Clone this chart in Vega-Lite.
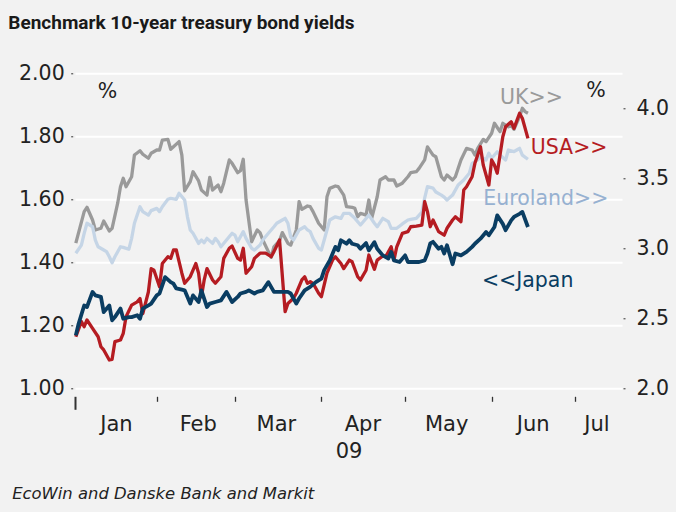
{
"$schema": "https://vega.github.io/schema/vega-lite/v6.json",
"width": 547, "height": 315,
"autosize": {"type": "none"},
"padding": {"left": 75, "top": 73.3, "right": 54, "bottom": 123.7},
"background": "#f2f2f2",
"config": {"view": {"stroke": null}, "font": "DejaVu Sans", "axis": {"labelFont": "DejaVu Sans", "titleFont": "DejaVu Sans"}},
"title": {"text": "Benchmark 10-year treasury bond yields", "anchor": "start", "frame": "group", "dx": -66.7, "offset": 30, "font": "Roboto", "fontSize": 19, "fontWeight": "bold", "color": "#1a1a1a"},
"datasets": {
"yields": [
{"date":"2009/01/03","series":"UK","value":3.037},{"date":"2009/01/06","series":"UK","value":3.262},{"date":"2009/01/07","series":"UK","value":3.293},{"date":"2009/01/09","series":"UK","value":3.202},{"date":"2009/01/10","series":"UK","value":3.131},{"date":"2009/01/12","series":"UK","value":3.143},{"date":"2009/01/13","series":"UK","value":3.195},{"date":"2009/01/15","series":"UK","value":3.124},{"date":"2009/01/16","series":"UK","value":3.143},{"date":"2009/01/18","series":"UK","value":3.322},{"date":"2009/01/19","series":"UK","value":3.44},{"date":"2009/01/20","series":"UK","value":3.5},{"date":"2009/01/21","series":"UK","value":3.44},{"date":"2009/01/23","series":"UK","value":3.511},{"date":"2009/01/24","series":"UK","value":3.666},{"date":"2009/01/26","series":"UK","value":3.697},{"date":"2009/01/27","series":"UK","value":3.672},{"date":"2009/01/29","series":"UK","value":3.643},{"date":"2009/01/30","series":"UK","value":3.679},{"date":"2009/02/01","series":"UK","value":3.702},{"date":"2009/02/02","series":"UK","value":3.702},{"date":"2009/02/03","series":"UK","value":3.773},{"date":"2009/02/05","series":"UK","value":3.778},{"date":"2009/02/06","series":"UK","value":3.707},{"date":"2009/02/07","series":"UK","value":3.725},{"date":"2009/02/09","series":"UK","value":3.762},{"date":"2009/02/10","series":"UK","value":3.666},{"date":"2009/02/11","series":"UK","value":3.411},{"date":"2009/02/13","series":"UK","value":3.476},{"date":"2009/02/14","series":"UK","value":3.547},{"date":"2009/02/16","series":"UK","value":3.481},{"date":"2009/02/17","series":"UK","value":3.416},{"date":"2009/02/19","series":"UK","value":3.38},{"date":"2009/02/20","series":"UK","value":3.507},{"date":"2009/02/21","series":"UK","value":3.416},{"date":"2009/02/23","series":"UK","value":3.452},{"date":"2009/02/24","series":"UK","value":3.404},{"date":"2009/02/25","series":"UK","value":3.465},{"date":"2009/02/27","series":"UK","value":3.631},{"date":"2009/02/28","series":"UK","value":3.607},{"date":"2009/03/02","series":"UK","value":3.54},{"date":"2009/03/03","series":"UK","value":3.554},{"date":"2009/03/04","series":"UK","value":3.636},{"date":"2009/03/05","series":"UK","value":3.345},{"date":"2009/03/07","series":"UK","value":3.047},{"date":"2009/03/09","series":"UK","value":3.131},{"date":"2009/03/10","series":"UK","value":3.112},{"date":"2009/03/11","series":"UK","value":3.059},{"date":"2009/03/13","series":"UK","value":2.976},{"date":"2009/03/14","series":"UK","value":2.935},{"date":"2009/03/15","series":"UK","value":3.011},{"date":"2009/03/17","series":"UK","value":3.054},{"date":"2009/03/18","series":"UK","value":3.112},{"date":"2009/03/20","series":"UK","value":3.036},{"date":"2009/03/21","series":"UK","value":3.023},{"date":"2009/03/23","series":"UK","value":3.131},{"date":"2009/03/24","series":"UK","value":3.333},{"date":"2009/03/25","series":"UK","value":3.278},{"date":"2009/03/27","series":"UK","value":3.302},{"date":"2009/03/28","series":"UK","value":3.297},{"date":"2009/03/29","series":"UK","value":3.262},{"date":"2009/03/31","series":"UK","value":3.179},{"date":"2009/04/02","series":"UK","value":3.131},{"date":"2009/04/03","series":"UK","value":3.368},{"date":"2009/04/04","series":"UK","value":3.428},{"date":"2009/04/06","series":"UK","value":3.445},{"date":"2009/04/07","series":"UK","value":3.44},{"date":"2009/04/09","series":"UK","value":3.38},{"date":"2009/04/10","series":"UK","value":3.297},{"date":"2009/04/12","series":"UK","value":3.293},{"date":"2009/04/13","series":"UK","value":3.285},{"date":"2009/04/14","series":"UK","value":3.225},{"date":"2009/04/15","series":"UK","value":3.25},{"date":"2009/04/17","series":"UK","value":3.237},{"date":"2009/04/18","series":"UK","value":3.345},{"date":"2009/04/19","series":"UK","value":3.214},{"date":"2009/04/21","series":"UK","value":3.368},{"date":"2009/04/22","series":"UK","value":3.488},{"date":"2009/04/24","series":"UK","value":3.511},{"date":"2009/04/25","series":"UK","value":3.488},{"date":"2009/04/27","series":"UK","value":3.488},{"date":"2009/04/28","series":"UK","value":3.445},{"date":"2009/04/30","series":"UK","value":3.465},{"date":"2009/05/02","series":"UK","value":3.511},{"date":"2009/05/03","series":"UK","value":3.54},{"date":"2009/05/05","series":"UK","value":3.547},{"date":"2009/05/06","series":"UK","value":3.571},{"date":"2009/05/08","series":"UK","value":3.631},{"date":"2009/05/09","series":"UK","value":3.725},{"date":"2009/05/11","series":"UK","value":3.666},{"date":"2009/05/12","series":"UK","value":3.654},{"date":"2009/05/14","series":"UK","value":3.511},{"date":"2009/05/15","series":"UK","value":3.488},{"date":"2009/05/16","series":"UK","value":3.523},{"date":"2009/05/18","series":"UK","value":3.488},{"date":"2009/05/19","series":"UK","value":3.511},{"date":"2009/05/21","series":"UK","value":3.631},{"date":"2009/05/23","series":"UK","value":3.714},{"date":"2009/05/25","series":"UK","value":3.702},{"date":"2009/05/26","series":"UK","value":3.666},{"date":"2009/05/27","series":"UK","value":3.714},{"date":"2009/05/29","series":"UK","value":3.778},{"date":"2009/05/30","series":"UK","value":3.762},{"date":"2009/06/01","series":"UK","value":3.822},{"date":"2009/06/02","series":"UK","value":3.893},{"date":"2009/06/04","series":"UK","value":3.833},{"date":"2009/06/05","series":"UK","value":3.893},{"date":"2009/06/07","series":"UK","value":3.868},{"date":"2009/06/08","series":"UK","value":3.88},{"date":"2009/06/09","series":"UK","value":3.85},{"date":"2009/06/11","series":"UK","value":3.94},{"date":"2009/06/12","series":"UK","value":4.0},{"date":"2009/06/13","series":"UK","value":3.976},{"date":"2009/06/14","series":"UK","value":3.965},
{"date":"2009/01/03","series":"Euroland","value":2.965},{"date":"2009/01/05","series":"Euroland","value":3.023},{"date":"2009/01/06","series":"Euroland","value":3.107},{"date":"2009/01/07","series":"Euroland","value":3.179},{"date":"2009/01/09","series":"Euroland","value":3.154},{"date":"2009/01/10","series":"Euroland","value":3.059},{"date":"2009/01/11","series":"Euroland","value":3.011},{"date":"2009/01/13","series":"Euroland","value":2.988},{"date":"2009/01/14","series":"Euroland","value":2.976},{"date":"2009/01/15","series":"Euroland","value":2.94},{"date":"2009/01/16","series":"Euroland","value":2.897},{"date":"2009/01/17","series":"Euroland","value":2.94},{"date":"2009/01/19","series":"Euroland","value":3.011},{"date":"2009/01/20","series":"Euroland","value":3.007},{"date":"2009/01/22","series":"Euroland","value":2.993},{"date":"2009/01/23","series":"Euroland","value":3.071},{"date":"2009/01/24","series":"Euroland","value":3.179},{"date":"2009/01/26","series":"Euroland","value":3.297},{"date":"2009/01/27","series":"Euroland","value":3.262},{"date":"2009/01/29","series":"Euroland","value":3.237},{"date":"2009/01/30","series":"Euroland","value":3.269},{"date":"2009/02/01","series":"Euroland","value":3.285},{"date":"2009/02/02","series":"Euroland","value":3.262},{"date":"2009/02/03","series":"Euroland","value":3.297},{"date":"2009/02/05","series":"Euroland","value":3.35},{"date":"2009/02/06","series":"Euroland","value":3.357},{"date":"2009/02/08","series":"Euroland","value":3.35},{"date":"2009/02/09","series":"Euroland","value":3.393},{"date":"2009/02/11","series":"Euroland","value":3.345},{"date":"2009/02/12","series":"Euroland","value":3.225},{"date":"2009/02/13","series":"Euroland","value":3.131},{"date":"2009/02/14","series":"Euroland","value":3.107},{"date":"2009/02/16","series":"Euroland","value":3.035},{"date":"2009/02/17","series":"Euroland","value":3.059},{"date":"2009/02/18","series":"Euroland","value":3.04},{"date":"2009/02/19","series":"Euroland","value":3.071},{"date":"2009/02/21","series":"Euroland","value":3.035},{"date":"2009/02/22","series":"Euroland","value":3.071},{"date":"2009/02/23","series":"Euroland","value":3.047},{"date":"2009/02/24","series":"Euroland","value":3.011},{"date":"2009/02/26","series":"Euroland","value":3.059},{"date":"2009/02/28","series":"Euroland","value":3.107},{"date":"2009/03/01","series":"Euroland","value":3.094},{"date":"2009/03/02","series":"Euroland","value":3.047},{"date":"2009/03/04","series":"Euroland","value":3.119},{"date":"2009/03/05","series":"Euroland","value":3.071},{"date":"2009/03/07","series":"Euroland","value":3.0},{"date":"2009/03/08","series":"Euroland","value":2.988},{"date":"2009/03/10","series":"Euroland","value":3.023},{"date":"2009/03/11","series":"Euroland","value":3.059},{"date":"2009/03/13","series":"Euroland","value":3.107},{"date":"2009/03/15","series":"Euroland","value":3.154},{"date":"2009/03/16","series":"Euroland","value":3.179},{"date":"2009/03/18","series":"Euroland","value":3.202},{"date":"2009/03/19","series":"Euroland","value":3.214},{"date":"2009/03/20","series":"Euroland","value":3.179},{"date":"2009/03/21","series":"Euroland","value":3.082},{"date":"2009/03/22","series":"Euroland","value":3.059},{"date":"2009/03/24","series":"Euroland","value":3.131},{"date":"2009/03/26","series":"Euroland","value":3.154},{"date":"2009/03/27","series":"Euroland","value":3.131},{"date":"2009/03/28","series":"Euroland","value":3.119},{"date":"2009/03/29","series":"Euroland","value":3.071},{"date":"2009/03/31","series":"Euroland","value":3.0},{"date":"2009/04/01","series":"Euroland","value":2.988},{"date":"2009/04/03","series":"Euroland","value":3.131},{"date":"2009/04/04","series":"Euroland","value":3.202},{"date":"2009/04/06","series":"Euroland","value":3.225},{"date":"2009/04/08","series":"Euroland","value":3.214},{"date":"2009/04/09","series":"Euroland","value":3.25},{"date":"2009/04/11","series":"Euroland","value":3.25},{"date":"2009/04/13","series":"Euroland","value":3.214},{"date":"2009/04/15","series":"Euroland","value":3.166},{"date":"2009/04/16","series":"Euroland","value":3.19},{"date":"2009/04/18","series":"Euroland","value":3.237},{"date":"2009/04/20","series":"Euroland","value":3.179},{"date":"2009/04/21","series":"Euroland","value":3.154},{"date":"2009/04/23","series":"Euroland","value":3.214},{"date":"2009/04/25","series":"Euroland","value":3.19},{"date":"2009/04/26","series":"Euroland","value":3.143},{"date":"2009/04/28","series":"Euroland","value":3.143},{"date":"2009/04/30","series":"Euroland","value":3.174},{"date":"2009/05/02","series":"Euroland","value":3.202},{"date":"2009/05/03","series":"Euroland","value":3.207},{"date":"2009/05/05","series":"Euroland","value":3.214},{"date":"2009/05/07","series":"Euroland","value":3.259},{"date":"2009/05/08","series":"Euroland","value":3.359},{"date":"2009/05/09","series":"Euroland","value":3.44},{"date":"2009/05/11","series":"Euroland","value":3.43},{"date":"2009/05/12","series":"Euroland","value":3.402},{"date":"2009/05/14","series":"Euroland","value":3.38},{"date":"2009/05/15","series":"Euroland","value":3.366},{"date":"2009/05/16","series":"Euroland","value":3.345},{"date":"2009/05/18","series":"Euroland","value":3.38},{"date":"2009/05/20","series":"Euroland","value":3.452},{"date":"2009/05/22","series":"Euroland","value":3.488},{"date":"2009/05/24","series":"Euroland","value":3.536},{"date":"2009/05/25","series":"Euroland","value":3.607},{"date":"2009/05/27","series":"Euroland","value":3.631},{"date":"2009/05/28","series":"Euroland","value":3.654},{"date":"2009/05/30","series":"Euroland","value":3.631},{"date":"2009/05/31","series":"Euroland","value":3.679},{"date":"2009/06/01","series":"Euroland","value":3.643},{"date":"2009/06/03","series":"Euroland","value":3.69},{"date":"2009/06/04","series":"Euroland","value":3.666},{"date":"2009/06/06","series":"Euroland","value":3.631},{"date":"2009/06/07","series":"Euroland","value":3.702},{"date":"2009/06/09","series":"Euroland","value":3.69},{"date":"2009/06/10","series":"Euroland","value":3.702},{"date":"2009/06/11","series":"Euroland","value":3.714},{"date":"2009/06/12","series":"Euroland","value":3.666},{"date":"2009/06/14","series":"Euroland","value":3.636},
{"date":"2009/01/03","series":"USA","value":2.368},{"date":"2009/01/05","series":"USA","value":2.476},{"date":"2009/01/06","series":"USA","value":2.44},{"date":"2009/01/07","series":"USA","value":2.488},{"date":"2009/01/09","series":"USA","value":2.428},{"date":"2009/01/11","series":"USA","value":2.368},{"date":"2009/01/12","series":"USA","value":2.297},{"date":"2009/01/13","series":"USA","value":2.274},{"date":"2009/01/15","series":"USA","value":2.202},{"date":"2009/01/16","series":"USA","value":2.207},{"date":"2009/01/17","series":"USA","value":2.333},{"date":"2009/01/19","series":"USA","value":2.345},{"date":"2009/01/20","series":"USA","value":2.393},{"date":"2009/01/21","series":"USA","value":2.511},{"date":"2009/01/23","series":"USA","value":2.594},{"date":"2009/01/25","series":"USA","value":2.617},{"date":"2009/01/26","series":"USA","value":2.641},{"date":"2009/01/27","series":"USA","value":2.534},{"date":"2009/01/29","series":"USA","value":2.688},{"date":"2009/01/30","series":"USA","value":2.855},{"date":"2009/01/31","series":"USA","value":2.843},{"date":"2009/02/02","series":"USA","value":2.725},{"date":"2009/02/03","series":"USA","value":2.891},{"date":"2009/02/05","series":"USA","value":2.94},{"date":"2009/02/06","series":"USA","value":2.928},{"date":"2009/02/07","series":"USA","value":2.988},{"date":"2009/02/08","series":"USA","value":2.988},{"date":"2009/02/10","series":"USA","value":2.822},{"date":"2009/02/11","series":"USA","value":2.75},{"date":"2009/02/13","series":"USA","value":2.797},{"date":"2009/02/15","series":"USA","value":2.891},{"date":"2009/02/16","series":"USA","value":2.822},{"date":"2009/02/17","series":"USA","value":2.654},{"date":"2009/02/18","series":"USA","value":2.774},{"date":"2009/02/19","series":"USA","value":2.855},{"date":"2009/02/21","series":"USA","value":2.774},{"date":"2009/02/22","series":"USA","value":2.75},{"date":"2009/02/24","series":"USA","value":2.797},{"date":"2009/02/25","series":"USA","value":2.928},{"date":"2009/02/27","series":"USA","value":3.0},{"date":"2009/02/28","series":"USA","value":3.016},{"date":"2009/03/02","series":"USA","value":2.928},{"date":"2009/03/03","series":"USA","value":2.916},{"date":"2009/03/04","series":"USA","value":3.0},{"date":"2009/03/05","series":"USA","value":2.822},{"date":"2009/03/07","series":"USA","value":2.868},{"date":"2009/03/08","series":"USA","value":2.928},{"date":"2009/03/10","series":"USA","value":2.965},{"date":"2009/03/12","series":"USA","value":2.965},{"date":"2009/03/14","series":"USA","value":2.94},{"date":"2009/03/15","series":"USA","value":2.976},{"date":"2009/03/17","series":"USA","value":3.059},{"date":"2009/03/19","series":"USA","value":2.547},{"date":"2009/03/20","series":"USA","value":2.606},{"date":"2009/03/22","series":"USA","value":2.643},{"date":"2009/03/23","series":"USA","value":2.679},{"date":"2009/03/25","series":"USA","value":2.774},{"date":"2009/03/26","series":"USA","value":2.797},{"date":"2009/03/27","series":"USA","value":2.75},{"date":"2009/03/28","series":"USA","value":2.762},{"date":"2009/03/29","series":"USA","value":2.75},{"date":"2009/03/31","series":"USA","value":2.679},{"date":"2009/04/01","series":"USA","value":2.654},{"date":"2009/04/03","series":"USA","value":2.822},{"date":"2009/04/05","series":"USA","value":2.916},{"date":"2009/04/06","series":"USA","value":2.94},{"date":"2009/04/08","series":"USA","value":2.891},{"date":"2009/04/09","series":"USA","value":2.855},{"date":"2009/04/11","series":"USA","value":2.916},{"date":"2009/04/12","series":"USA","value":2.904},{"date":"2009/04/14","series":"USA","value":2.797},{"date":"2009/04/15","series":"USA","value":2.774},{"date":"2009/04/17","series":"USA","value":2.843},{"date":"2009/04/18","series":"USA","value":2.952},{"date":"2009/04/20","series":"USA","value":2.85},{"date":"2009/04/21","series":"USA","value":2.916},{"date":"2009/04/23","series":"USA","value":2.945},{"date":"2009/04/24","series":"USA","value":2.94},{"date":"2009/04/26","series":"USA","value":3.011},{"date":"2009/04/27","series":"USA","value":2.916},{"date":"2009/04/28","series":"USA","value":3.011},{"date":"2009/04/30","series":"USA","value":3.107},{"date":"2009/05/02","series":"USA","value":3.119},{"date":"2009/05/03","series":"USA","value":3.154},{"date":"2009/05/05","series":"USA","value":3.159},{"date":"2009/05/07","series":"USA","value":3.166},{"date":"2009/05/08","series":"USA","value":3.333},{"date":"2009/05/09","series":"USA","value":3.262},{"date":"2009/05/10","series":"USA","value":3.154},{"date":"2009/05/11","series":"USA","value":3.202},{"date":"2009/05/13","series":"USA","value":3.119},{"date":"2009/05/15","series":"USA","value":3.094},{"date":"2009/05/16","series":"USA","value":3.143},{"date":"2009/05/18","series":"USA","value":3.202},{"date":"2009/05/19","series":"USA","value":3.225},{"date":"2009/05/21","series":"USA","value":3.19},{"date":"2009/05/22","series":"USA","value":3.416},{"date":"2009/05/23","series":"USA","value":3.44},{"date":"2009/05/25","series":"USA","value":3.511},{"date":"2009/05/26","series":"USA","value":3.607},{"date":"2009/05/28","series":"USA","value":3.725},{"date":"2009/05/29","series":"USA","value":3.594},{"date":"2009/05/31","series":"USA","value":3.452},{"date":"2009/06/01","series":"USA","value":3.631},{"date":"2009/06/02","series":"USA","value":3.594},{"date":"2009/06/03","series":"USA","value":3.536},{"date":"2009/06/05","series":"USA","value":3.797},{"date":"2009/06/06","series":"USA","value":3.868},{"date":"2009/06/08","series":"USA","value":3.904},{"date":"2009/06/09","series":"USA","value":3.857},{"date":"2009/06/11","series":"USA","value":3.965},{"date":"2009/06/12","series":"USA","value":3.929},{"date":"2009/06/14","series":"USA","value":3.785},
{"date":"2009/01/03","series":"Japan","value":1.168},{"date":"2009/01/04","series":"Japan","value":1.205},{"date":"2009/01/06","series":"Japan","value":1.263},{"date":"2009/01/07","series":"Japan","value":1.258},{"date":"2009/01/09","series":"Japan","value":1.306},{"date":"2009/01/10","series":"Japan","value":1.295},{"date":"2009/01/12","series":"Japan","value":1.29},{"date":"2009/01/13","series":"Japan","value":1.242},{"date":"2009/01/15","series":"Japan","value":1.263},{"date":"2009/01/16","series":"Japan","value":1.216},{"date":"2009/01/17","series":"Japan","value":1.226},{"date":"2009/01/19","series":"Japan","value":1.253},{"date":"2009/01/20","series":"Japan","value":1.221},{"date":"2009/01/22","series":"Japan","value":1.226},{"date":"2009/01/23","series":"Japan","value":1.226},{"date":"2009/01/25","series":"Japan","value":1.232},{"date":"2009/01/26","series":"Japan","value":1.221},{"date":"2009/01/27","series":"Japan","value":1.253},{"date":"2009/01/29","series":"Japan","value":1.263},{"date":"2009/01/30","series":"Japan","value":1.269},{"date":"2009/02/01","series":"Japan","value":1.295},{"date":"2009/02/02","series":"Japan","value":1.301},{"date":"2009/02/04","series":"Japan","value":1.353},{"date":"2009/02/06","series":"Japan","value":1.337},{"date":"2009/02/07","series":"Japan","value":1.332},{"date":"2009/02/08","series":"Japan","value":1.317},{"date":"2009/02/10","series":"Japan","value":1.313},{"date":"2009/02/11","series":"Japan","value":1.311},{"date":"2009/02/13","series":"Japan","value":1.269},{"date":"2009/02/14","series":"Japan","value":1.295},{"date":"2009/02/16","series":"Japan","value":1.274},{"date":"2009/02/17","series":"Japan","value":1.311},{"date":"2009/02/19","series":"Japan","value":1.258},{"date":"2009/02/20","series":"Japan","value":1.269},{"date":"2009/02/22","series":"Japan","value":1.274},{"date":"2009/02/24","series":"Japan","value":1.279},{"date":"2009/02/26","series":"Japan","value":1.306},{"date":"2009/02/28","series":"Japan","value":1.274},{"date":"2009/03/02","series":"Japan","value":1.29},{"date":"2009/03/03","series":"Japan","value":1.301},{"date":"2009/03/05","series":"Japan","value":1.306},{"date":"2009/03/06","series":"Japan","value":1.311},{"date":"2009/03/08","series":"Japan","value":1.301},{"date":"2009/03/09","series":"Japan","value":1.306},{"date":"2009/03/11","series":"Japan","value":1.311},{"date":"2009/03/13","series":"Japan","value":1.337},{"date":"2009/03/15","series":"Japan","value":1.306},{"date":"2009/03/16","series":"Japan","value":1.306},{"date":"2009/03/18","series":"Japan","value":1.306},{"date":"2009/03/20","series":"Japan","value":1.306},{"date":"2009/03/21","series":"Japan","value":1.301},{"date":"2009/03/23","series":"Japan","value":1.269},{"date":"2009/03/24","series":"Japan","value":1.285},{"date":"2009/03/26","series":"Japan","value":1.311},{"date":"2009/03/28","series":"Japan","value":1.322},{"date":"2009/03/30","series":"Japan","value":1.337},{"date":"2009/04/01","series":"Japan","value":1.348},{"date":"2009/04/02","series":"Japan","value":1.375},{"date":"2009/04/04","series":"Japan","value":1.406},{"date":"2009/04/06","series":"Japan","value":1.449},{"date":"2009/04/07","series":"Japan","value":1.438},{"date":"2009/04/08","series":"Japan","value":1.47},{"date":"2009/04/10","series":"Japan","value":1.459},{"date":"2009/04/11","series":"Japan","value":1.47},{"date":"2009/04/12","series":"Japan","value":1.459},{"date":"2009/04/14","series":"Japan","value":1.454},{"date":"2009/04/15","series":"Japan","value":1.443},{"date":"2009/04/17","series":"Japan","value":1.461},{"date":"2009/04/18","series":"Japan","value":1.438},{"date":"2009/04/20","series":"Japan","value":1.464},{"date":"2009/04/21","series":"Japan","value":1.443},{"date":"2009/04/23","series":"Japan","value":1.422},{"date":"2009/04/25","series":"Japan","value":1.412},{"date":"2009/04/26","series":"Japan","value":1.433},{"date":"2009/04/27","series":"Japan","value":1.406},{"date":"2009/04/29","series":"Japan","value":1.401},{"date":"2009/05/01","series":"Japan","value":1.422},{"date":"2009/05/02","series":"Japan","value":1.401},{"date":"2009/05/04","series":"Japan","value":1.401},{"date":"2009/05/06","series":"Japan","value":1.401},{"date":"2009/05/08","series":"Japan","value":1.406},{"date":"2009/05/09","series":"Japan","value":1.428},{"date":"2009/05/10","series":"Japan","value":1.46},{"date":"2009/05/11","series":"Japan","value":1.465},{"date":"2009/05/13","series":"Japan","value":1.443},{"date":"2009/05/14","series":"Japan","value":1.449},{"date":"2009/05/15","series":"Japan","value":1.428},{"date":"2009/05/16","series":"Japan","value":1.454},{"date":"2009/05/18","series":"Japan","value":1.394},{"date":"2009/05/19","series":"Japan","value":1.428},{"date":"2009/05/21","series":"Japan","value":1.422},{"date":"2009/05/23","series":"Japan","value":1.433},{"date":"2009/05/25","series":"Japan","value":1.449},{"date":"2009/05/26","series":"Japan","value":1.459},{"date":"2009/05/28","series":"Japan","value":1.475},{"date":"2009/05/30","series":"Japan","value":1.496},{"date":"2009/05/31","series":"Japan","value":1.486},{"date":"2009/06/02","series":"Japan","value":1.512},{"date":"2009/06/03","series":"Japan","value":1.549},{"date":"2009/06/05","series":"Japan","value":1.522},{"date":"2009/06/06","series":"Japan","value":1.502},{"date":"2009/06/08","series":"Japan","value":1.533},{"date":"2009/06/09","series":"Japan","value":1.544},{"date":"2009/06/11","series":"Japan","value":1.554},{"date":"2009/06/12","series":"Japan","value":1.56},{"date":"2009/06/14","series":"Japan","value":1.512}
],
"labels": [
{"series":"UK","date":"2009/06/04","value":4.071,"text":"UK>>"},
{"series":"USA","date":"2009/06/15","value":3.714,"text":"USA>>"},
{"series":"Euroland","date":"2009/05/29","value":3.35,"text":"Euroland>>"},
{"series":"Japan","date":"2009/05/28 12:00","value":1.341,"text":"<<Japan"}
]
},
"layer": [
{
"data": {"name": "yields"},
"transform": [{"filter": "datum.series !== 'Japan'"}],
"mark": {"type": "line", "strokeWidth": 3.3, "strokeJoin": "round"},
"encoding": {
"x": {"field": "date", "type": "temporal",
"scale": {"domain": [{"year": 2009, "month": 1, "date": 2, "hours": 17}, {"year": 2009, "month": 7, "date": 17, "hours": 17}]},
"axis": {"orient": "bottom", "title": "EcoWin and Danske Bank and Markit", "ticks": false, "labels": false, "domain": false, "grid": false,
"titleX": -63.3, "titleY": 110, "titleAlign": "left", "titleBaseline": "alphabetic", "titleFontSize": 16.4, "titleFontStyle": "italic", "titleFontWeight": "normal", "titleColor": "#222222"}},
"y": {"field": "value", "type": "quantitative",
"scale": {"domain": [2, 4.25], "nice": false, "zero": false},
"axis": {"orient": "right", "values": [2, 2.5, 3, 3.5, 4], "format": ".1f", "grid": false, "domain": false, "offset": 1, "tickSize": 2, "tickColor": "#333333",
"labelFontSize": 20.5, "labelColor": "#222222", "labelPadding": 11,
"title": "%", "titleAngle": 0, "titleX": -27.5, "titleY": 17, "titleAlign": "center", "titleBaseline": "middle", "titleFontSize": 20.5, "titleFontWeight": "normal", "titleColor": "#222222"}},
"color": {"field": "series", "type": "nominal", "scale": {"domain": ["Euroland", "UK", "USA"], "range": ["#c5d5e6", "#9a9a9a", "#b51c22"]}, "legend": null}
}
},
{
"data": {"name": "labels"},
"transform": [{"filter": "datum.series === 'UK'"}],
"mark": {"type": "text", "align": "left", "baseline": "middle", "fontSize": 20.5, "color": "#9a9a9a"},
"encoding": {
"x": {"field": "date", "type": "temporal", "axis": null},
"y": {"field": "value", "type": "quantitative", "axis": null, "scale": {"domain": [2, 4.25], "nice": false, "zero": false}},
"text": {"field": "text"}
}
},
{
"data": {"name": "labels"},
"transform": [{"filter": "datum.series === 'USA'"}],
"mark": {"type": "text", "align": "left", "baseline": "middle", "fontSize": 20.5, "color": "#b51c22"},
"encoding": {
"x": {"field": "date", "type": "temporal", "axis": null},
"y": {"field": "value", "type": "quantitative", "axis": null, "scale": {"domain": [2, 4.25], "nice": false, "zero": false}},
"text": {"field": "text"}
}
},
{
"data": {"name": "labels"},
"transform": [{"filter": "datum.series === 'Euroland'"}],
"mark": {"type": "text", "align": "left", "baseline": "middle", "fontSize": 20.5, "color": "#97b1d1"},
"encoding": {
"x": {"field": "date", "type": "temporal", "axis": null},
"y": {"field": "value", "type": "quantitative", "axis": null, "scale": {"domain": [2, 4.25], "nice": false, "zero": false}},
"text": {"field": "text"}
}
},
{
"data": {"name": "yields"},
"transform": [{"filter": "datum.series === 'Japan'"}],
"mark": {"type": "line", "strokeWidth": 3.8, "strokeJoin": "round", "color": "#0a3d62"},
"encoding": {
"x": {"field": "date", "type": "temporal",
"axis": {"orient": "bottom", "values": [{"year": 2009, "month": 1, "date": 2, "hours": 17}, {"year": 2009, "month": 2, "date": 1}, {"year": 2009, "month": 3, "date": 1}, {"year": 2009, "month": 4, "date": 1}, {"year": 2009, "month": 5, "date": 1}, {"year": 2009, "month": 6, "date": 1}, {"year": 2009, "month": 7, "date": 1}],
"format": "%b", "offset": 8, "tickSize": {"condition": {"test": "month(datum.value) == 0", "value": 13}, "value": 5}, "tickWidth": {"condition": {"test": "month(datum.value) == 0", "value": 2}, "value": 1.3}, "tickColor": "#333333", "domain": false, "grid": false,
"labelFontSize": 21, "labelColor": "#222222", "labelPadding": {"condition": {"test": "month(datum.value) == 0", "value": 4}, "value": 12}, "labelFlush": false, "labelOverlap": false, "labelBound": false,
"labelOffset": {"condition": {"test": "month(datum.value) == 6", "value": 21}, "value": 41},
"title": "09", "titleFontSize": 21, "titleFontWeight": "normal", "titleColor": "#222222", "titleY": 54.7, "titleBaseline": "middle"}},
"y": {"field": "value", "type": "quantitative",
"scale": {"domain": [1, 2], "nice": false, "zero": false},
"axis": {"orient": "left", "values": [1, 1.2, 1.4, 1.6, 1.8, 2], "format": ".2f", "grid": true, "gridColor": "#ffffff", "gridWidth": 2, "domain": false, "offset": 2.3, "tickSize": 2, "tickColor": "#333333",
"labelFontSize": 20.5, "labelColor": "#222222", "labelPadding": 6.5,
"title": "%", "titleAngle": 0, "titleX": 34.3, "titleY": 18.4, "titleAlign": "center", "titleBaseline": "middle", "titleFontSize": 20.5, "titleFontWeight": "normal", "titleColor": "#222222"}}
}
},
{
"data": {"name": "labels"},
"transform": [{"filter": "datum.series === 'Japan'"}],
"mark": {"type": "text", "align": "left", "baseline": "middle", "fontSize": 20.5, "color": "#0a3d62"},
"encoding": {
"x": {"field": "date", "type": "temporal", "axis": null},
"y": {"field": "value", "type": "quantitative", "axis": null, "scale": {"domain": [1, 2], "nice": false, "zero": false}},
"text": {"field": "text"}
}
}
],
"resolve": {"scale": {"y": "independent"}, "axis": {"x": "independent"}}
}
